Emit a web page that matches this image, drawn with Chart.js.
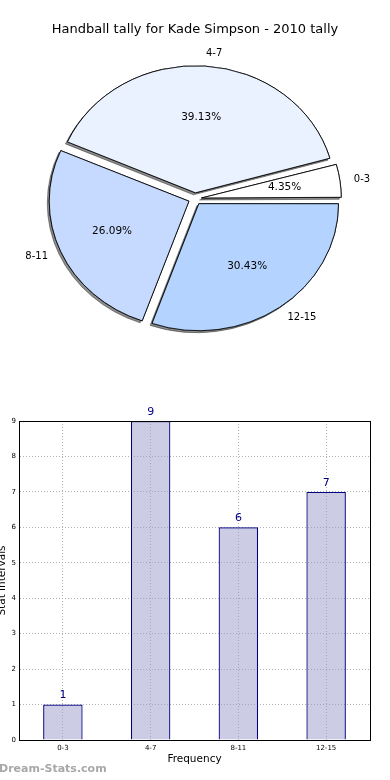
<!DOCTYPE html>
<html>
<head>
<meta charset="utf-8">
<script src="https://cdn.jsdelivr.net/npm/chart.js@4"></script>
<style>
  html, body { margin: 0; padding: 0; background: #fff; }
  #wrap { position: relative; width: 390px; height: 780px; overflow: hidden; }
  #pie { position: absolute; left: 0; top: 0; }
  #bar { position: absolute; left: 0; top: 360px; }
  #mark {
    position: absolute; left: -1px; top: 762px;
    font: bold 11px "DejaVu Sans", sans-serif; color: #a8a8a8;
  }
</style>
</head>
<body>
<div id="wrap">
  <canvas id="pie" width="390" height="360"></canvas>
  <canvas id="bar" width="390" height="420"></canvas>
  <div id="mark">Dream-Stats.com</div>
</div>
<script>
// データ
const chartTitle = 'Handball tally for Kade Simpson - 2010 tally';
const intervals = ['0-3', '4-7', '8-11', '12-15'];
const counts = [1, 9, 6, 7];
const yTickMax = 9;

const FONT = 'DejaVu Sans';
const PIE_R = 127;
const X_STRETCH = 1.1;   // 楕円に見せるための横倍率
const EXPLODE = 24;      // Chart.js は offset/4 だけずらす

// 円グラフは反時計回りなので逆順にして時計回りで描く
const pieLabels = [...intervals].reverse();
const pieValues = [...counts].reverse();
const pieColors = ['#b4d4ff', '#c6daff', '#eaf1ff', '#ffffff'];
const total = counts.reduce((a, b) => a + b, 0);

function stretch(ctx, cx) {
  ctx.translate(cx, 0);
  ctx.scale(X_STRETCH, 1);
  ctx.translate(-cx, 0);
}

const pieStyle = {
  id: 'pieStyle',
  beforeDatasetsDraw(chart) {
    const ctx = chart.ctx;
    const arcs = chart.getDatasetMeta(0).data;
    // 小さい扇形が offset で大きくなる分を戻す
    arcs.forEach(arc => {
      const fix = 1 - Math.sin(Math.min(Math.PI, arc.circumference));
      arc.outerRadius = PIE_R - EXPLODE / 4 * fix;
    });
    // 影だけ先に描く
    ctx.save();
    stretch(ctx, arcs[0].x);
    ctx.shadowColor = 'rgba(0,0,0,0.45)';
    ctx.shadowOffsetX = -2;
    ctx.shadowOffsetY = 2;
    arcs.forEach(arc => arc.draw(ctx));
    ctx.restore();
    // 本体
    ctx.save();
    stretch(ctx, arcs[0].x);
  },
  afterDatasetsDraw(chart) {
    const ctx = chart.ctx;
    ctx.restore();

    // ラベルと割合
    ctx.save();
    ctx.fillStyle = '#000';
    ctx.textBaseline = 'middle';
    chart.getDatasetMeta(0).data.forEach((arc, i) => {
      const half = (arc.startAngle + arc.endAngle) / 2;
      const ox = Math.cos(half) * EXPLODE / 4;
      const oy = Math.sin(half) * EXPLODE / 4;
      const pos = (k) => ({
        x: arc.x + (ox + Math.cos(half) * PIE_R * k) * X_STRETCH,
        y: arc.y + oy + Math.sin(half) * PIE_R * k
      });
      ctx.font = '10.5px "' + FONT + '"';
      const p = pos(0.6);
      ctx.textAlign = 'center';
      ctx.fillText((pieValues[i] / total * 100).toFixed(2) + '%', p.x, p.y);
      ctx.font = '10px "' + FONT + '"';
      const l = pos(1.1);
      ctx.textAlign = Math.cos(half) > 0 ? 'left' : 'right';
      ctx.fillText(pieLabels[i], l.x, l.y);
    });
    ctx.restore();
  }
};

new Chart(document.getElementById('pie'), {
  type: 'pie',
  data: {
    labels: pieLabels,
    datasets: [{
      data: pieValues,
      backgroundColor: pieColors,
      borderColor: '#000',
      borderWidth: 0.8,
      offset: EXPLODE
    }]
  },
  options: {
    responsive: false,
    animation: false,
    rotation: 90,
    radius: PIE_R,
    plugins: {
      legend: { display: false },
      tooltip: { enabled: false },
      title: {
        display: true,
        text: chartTitle,
        color: '#000',
        font: { family: FONT, size: 13, weight: 'normal' },
        padding: { top: 22, bottom: 0 }
      }
    }
  },
  plugins: [pieStyle]
});

// 棒グラフ: 枠線と値ラベル
const barDecor = {
  id: 'barDecor',
  afterDatasetsDraw(chart) {
    const ctx = chart.ctx;
    const a = chart.chartArea;
    ctx.save();
    ctx.strokeStyle = '#000';
    ctx.lineWidth = 1;
    ctx.strokeRect(a.left + 0.5, a.top + 0.5, a.right - a.left, a.bottom - a.top);
    ctx.fillStyle = '#000080';
    ctx.font = '11px "' + FONT + '"';
    ctx.textAlign = 'center';
    ctx.textBaseline = 'middle';
    chart.getDatasetMeta(0).data.forEach((bar, i) => {
      ctx.fillText(String(counts[i]), bar.x, bar.y - 9);
    });
    ctx.restore();
  }
};

const tickFont = { family: FONT, size: 7 };
const gridStyle = { color: '#b0b0b0', lineWidth: 1, drawTicks: false };

new Chart(document.getElementById('bar'), {
  type: 'bar',
  data: {
    labels: intervals,
    datasets: [{
      data: counts,
      backgroundColor: 'rgba(153,153,204,0.5)',
      borderColor: '#000080',
      borderWidth: 1.2,
      barPercentage: 0.45,
      categoryPercentage: 1
    }]
  },
  options: {
    responsive: false,
    animation: false,
    layout: { padding: { left: -3, right: 20, top: 61, bottom: 0 } },
    plugins: {
      legend: { display: false },
      tooltip: { enabled: false }
    },
    scales: {
      x: {
        offset: true,
        grid: { ...gridStyle, offset: false },
        border: { display: true, color: '#000', dash: [1, 2] },
        ticks: { color: '#000', font: tickFont, padding: 4 },
        title: {
          display: true,
          text: 'Frequency',
          color: '#000',
          font: { family: FONT, size: 10.5 },
          padding: { top: 0, bottom: 14 }
        },
        afterFit(scale) { scale.height = 40; }
      },
      y: {
        min: 0,
        max: yTickMax,
        grid: gridStyle,
        border: { display: true, color: '#000', dash: [1, 2] },
        ticks: { color: '#000', font: tickFont, padding: 3, stepSize: 1 },
        title: {
          display: true,
          text: 'Stat intervals',
          color: '#000',
          font: { family: FONT, size: 10.5, lineHeight: 1 },
          padding: 0
        },
        afterFit(scale) { scale.width = 22; }
      }
    }
  },
  plugins: [barDecor]
});
</script>
</body>
</html>
